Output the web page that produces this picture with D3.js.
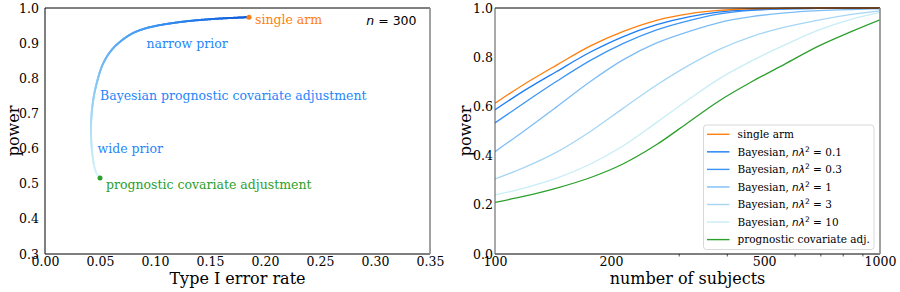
<!DOCTYPE html>
<html>
<head>
<meta charset="utf-8">
<script src="https://cdn.jsdelivr.net/npm/d3@7"></script>
<style>
body { margin: 0; background: #fff; }
text { font-family: "DejaVu Serif", serif; }
</style>
</head>
<body>
<svg width="900" height="292"></svg>
<script>
// left panel: type I error vs power as the prior width changes
var tradeType1 = [0.050, 0.0461, 0.0427, 0.0418, 0.0434, 0.047, 0.053, 0.0621, 0.0773, 0.0925, 0.1227, 0.1527, 0.1855];
var tradePower = [0.516, 0.5345, 0.596, 0.663, 0.729, 0.786, 0.843, 0.886, 0.924, 0.943, 0.960, 0.9687, 0.974];
var singleArmPoint = [0.1855, 0.974];
var covAdjPoint = [0.050, 0.516];
var leftXTicks = [0, 0.05, 0.10, 0.15, 0.20, 0.25, 0.30, 0.35];
var leftYTicks = [0.3, 0.4, 0.5, 0.6, 0.7, 0.8, 0.9, 1.0];

// right panel: power vs number of subjects
var subjects = [100, 118.5, 144.6, 176.5, 215.5, 263, 321, 380, 464, 566, 692, 845, 1000];
var powerSingle = [0.613, 0.688, 0.768, 0.845, 0.905, 0.950, 0.977, 0.990, 0.997, 0.999, 1.0, 1.0, 1.0];
var powerB01 = [0.586, 0.662, 0.742, 0.820, 0.884, 0.932, 0.965, 0.983, 0.993, 0.998, 0.999, 1.0, 1.0];
var powerB03 = [0.533, 0.612, 0.702, 0.786, 0.856, 0.911, 0.950, 0.975, 0.990, 0.996, 0.999, 1.0, 1.0];
var powerB1 = [0.416, 0.498, 0.598, 0.700, 0.790, 0.858, 0.906, 0.940, 0.965, 0.980, 0.989, 0.994, 0.997];
var powerB3 = [0.305, 0.350, 0.414, 0.497, 0.593, 0.687, 0.770, 0.830, 0.884, 0.922, 0.951, 0.974, 0.988];
var powerB10 = [0.240, 0.267, 0.308, 0.365, 0.440, 0.535, 0.632, 0.710, 0.785, 0.850, 0.910, 0.955, 0.982];
var powerCov = [0.210, 0.234, 0.268, 0.310, 0.367, 0.445, 0.540, 0.620, 0.700, 0.772, 0.845, 0.905, 0.952];
var rightXTicks = [100, 200, 500, 1000];
var rightXMinor = [300, 400, 600, 700, 800, 900];
var rightYTicks = [0, 0.2, 0.4, 0.6, 0.8, 1.0];

var seriesNames = ["single arm", "Bayesian, 0.1", "Bayesian, 0.3", "Bayesian, 1", "Bayesian, 3", "Bayesian, 10", "prognostic covariate adj."];
var seriesColors = ["#ff7f0e", "#1c7cf6", "#3b95f6", "#7dbdf7", "#a6d6f4", "#c8edf6", "#2ca02c"];
var seriesValues = [powerSingle, powerB01, powerB03, powerB1, powerB3, powerB10, powerCov];

var svg = d3.select("svg");
var top_ = 8, bottom = 254;

function styleTicks(g) {
  g.attr("font-size", null).attr("font-family", null);
  g.selectAll("text").style("font-family", "DejaVu Serif").style("font-size", "12.5px").attr("fill", "#000");
  g.select(".domain").remove();
}

// ---------- left panel ----------
var xL = d3.scaleLinear().domain([0, 0.35]).range([45, 430]);
var yL = d3.scaleLinear().domain([0.3, 1.0]).range([bottom, top_]);
var gL = svg.append("g");

gL.append("g")
    .attr("transform", "translate(0," + bottom + ")")
    .call(d3.axisBottom(xL).tickValues(leftXTicks).tickFormat(d3.format(".2f")).tickSize(0).tickPadding(3))
    .call(styleTicks);
gL.append("g")
    .attr("transform", "translate(45,0)")
    .call(d3.axisLeft(yL).tickValues(leftYTicks).tickFormat(d3.format(".1f")).tickSize(0).tickPadding(6))
    .call(styleTicks);

// gradient-coloured curve, sampled along its length
var tradeLine = d3.line().curve(d3.curveCatmullRom.alpha(0.5))
    .x(function(d, i) { return xL(tradeType1[i]); })
    .y(function(d, i) { return yL(tradePower[i]); });
var guide = gL.append("path").datum(tradePower).attr("d", tradeLine).attr("fill", "none").attr("stroke", "none");
var len = guide.node().getTotalLength();
var grad = d3.interpolateRgbBasis(["#dcf5f7", "#a3d8f6", "#5aabf3", "#2a85f2", "#0b58d6"]);
var N = 240;
for (var k = 0; k < N; k++) {
  var p0 = guide.node().getPointAtLength(len * k / N);
  var p1 = guide.node().getPointAtLength(len * (k + 1) / N);
  gL.append("line")
      .attr("x1", p0.x).attr("y1", p0.y).attr("x2", p1.x).attr("y2", p1.y)
      .attr("stroke", grad(k / N))
      .attr("stroke-width", 2)
      .attr("stroke-linecap", "round");
}

gL.append("circle").attr("cx", xL(covAdjPoint[0])).attr("cy", yL(covAdjPoint[1])).attr("r", 2.5).attr("fill", "#2ca02c");
gL.append("circle").attr("cx", xL(singleArmPoint[0])).attr("cy", yL(singleArmPoint[1])).attr("r", 2.5).attr("fill", "#ff7f0e");

var blueText = "#1f86fb";
gL.append("text").attr("x", 255).attr("y", 23.5).attr("fill", "#ff7f0e").style("font-size", "12.5px").text("single arm");
gL.append("text").attr("x", 146.5).attr("y", 47.5).attr("fill", blueText).style("font-size", "12.5px").text("narrow prior");
gL.append("text").attr("x", 100).attr("y", 100).attr("fill", blueText).style("font-size", "12.5px").text("Bayesian prognostic covariate adjustment");
gL.append("text").attr("x", 97.5).attr("y", 152.5).attr("fill", blueText).style("font-size", "12.5px").text("wide prior");
gL.append("text").attr("x", 106).attr("y", 188.5).attr("fill", "#2ca02c").style("font-size", "12.5px").text("prognostic covariate adjustment");

var nt = gL.append("text").attr("x", 416.5).attr("y", 25).attr("text-anchor", "end")
    .style("font-family", "DejaVu Sans").style("font-size", "12.5px").attr("fill", "#000");
nt.append("tspan").style("font-style", "italic").text("n");
nt.append("tspan").text(" = 300");

// frame
gL.append("line").attr("x1", 45).attr("x2", 430).attr("y1", top_).attr("y2", top_).attr("stroke", "#000");
gL.append("line").attr("x1", 45).attr("x2", 430).attr("y1", bottom).attr("y2", bottom).attr("stroke", "#000");
gL.append("line").attr("x1", 45).attr("x2", 45).attr("y1", top_).attr("y2", bottom).attr("stroke", "#000");
gL.append("line").attr("x1", 430).attr("x2", 430).attr("y1", top_).attr("y2", bottom).attr("stroke", "#8a8a8a").attr("stroke-width", 1.6);

gL.append("text").attr("x", 237.5).attr("y", 284).attr("text-anchor", "middle").style("font-size", "16px").text("Type I error rate");
gL.append("text").attr("transform", "translate(19,131) rotate(-90)").attr("text-anchor", "middle").style("font-size", "16px").text("power");

// ---------- right panel ----------
var xR = d3.scaleLog().domain([100, 1000]).range([495, 880]);
var yR = d3.scaleLinear().domain([0, 1]).range([bottom, top_]);
var gR = svg.append("g");

gR.append("g")
    .attr("transform", "translate(0," + bottom + ")")
    .call(d3.axisBottom(xR).tickValues(rightXTicks).tickFormat(d3.format("d")).tickSize(0).tickPadding(3))
    .call(styleTicks);
gR.append("g")
    .attr("transform", "translate(0," + bottom + ")")
    .call(d3.axisBottom(xR).tickValues(rightXMinor).tickFormat("").tickSize(2.5))
    .call(function(g) { g.select(".domain").remove(); g.selectAll("line").attr("stroke", "#555"); });
gR.append("g")
    .attr("transform", "translate(495,0)")
    .call(d3.axisLeft(yR).tickValues(rightYTicks).tickFormat(d3.format(".1f")).tickSize(0).tickPadding(2))
    .call(styleTicks);

svg.append("clipPath").attr("id", "clipR").append("rect")
    .attr("x", 495).attr("y", top_ - 1).attr("width", 385).attr("height", bottom - top_ + 1);

var powerLine = d3.line().curve(d3.curveMonotoneX)
    .x(function(d, i) { return xR(subjects[i]); })
    .y(function(d) { return yR(d); });

var order = [6, 5, 4, 3, 2, 1, 0];
order.forEach(function(s) {
  gR.append("path")
      .datum(seriesValues[s])
      .attr("clip-path", "url(#clipR)")
      .attr("fill", "none")
      .attr("stroke", seriesColors[s])
      .attr("stroke-width", 1.3)
      .attr("d", powerLine);
});

// legend
var lg = gR.append("g");
lg.append("rect").attr("x", 703.5).attr("y", 125).attr("width", 170.5).attr("height", 124.5).attr("rx", 3)
    .attr("fill", "#fff").attr("fill-opacity", 0.85).attr("stroke", "#d8d8d8");
seriesNames.forEach(function(name, i) {
  var yy = 134.3 + i * 17.55;
  lg.append("line").attr("x1", 707).attr("x2", 729.5).attr("y1", yy).attr("y2", yy)
      .attr("stroke", seriesColors[i]).attr("stroke-width", 1.4);
  var t = lg.append("text").attr("x", 737.5).attr("y", yy + 3.8).style("font-size", "10.5px").attr("fill", "#000");
  if (name.indexOf("Bayesian") === 0) {
    t.append("tspan").text("Bayesian, ");
    t.append("tspan").style("font-family", "DejaVu Sans").style("font-style", "italic").text("nλ");
    t.append("tspan").style("font-family", "DejaVu Sans").style("font-size", "7.5px").attr("dy", -4).text("2");
    t.append("tspan").attr("dy", 4).text(" = " + name.split(", ")[1]);
  } else {
    t.text(name);
  }
});

// frame
gR.append("line").attr("x1", 495).attr("x2", 880).attr("y1", top_).attr("y2", top_).attr("stroke", "#000");
gR.append("line").attr("x1", 495).attr("x2", 880).attr("y1", bottom).attr("y2", bottom).attr("stroke", "#000");
gR.append("line").attr("x1", 495).attr("x2", 495).attr("y1", top_).attr("y2", bottom).attr("stroke", "#555");
gR.append("line").attr("x1", 880).attr("x2", 880).attr("y1", top_).attr("y2", bottom).attr("stroke", "#8a8a8a").attr("stroke-width", 1.6);

gR.append("text").attr("x", 687.5).attr("y", 284).attr("text-anchor", "middle").style("font-size", "16px").text("number of subjects");
gR.append("text").attr("transform", "translate(471,131) rotate(-90)").attr("text-anchor", "middle").style("font-size", "16px").text("power");
</script>
</body>
</html>
